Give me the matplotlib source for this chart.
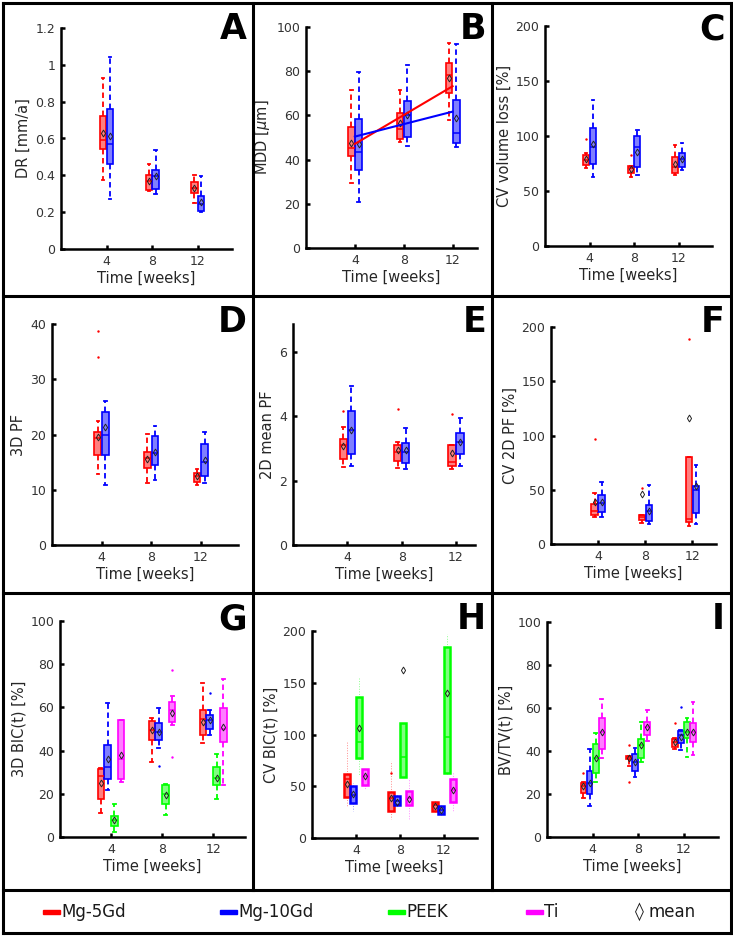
import numpy as np
import matplotlib
matplotlib.use("Agg")
from matplotlib import pyplot as plt
from matplotlib.colors import to_rgba
from matplotlib.lines import Line2D
from matplotlib.patches import Rectangle
from matplotlib.ticker import FuncFormatter

W, H = 733, 936

weeks = [4, 8, 12]
group_names = ["Mg-5Gd", "Mg-10Gd", "PEEK", "Ti"]
group_colors = ["#ff0000", "#0000ff", "#00ff00", "#ff00ff"]

# box stats per week (4, 8, 12): [whisker low, q1, median, q3, whisker high, mean]
# A - degradation rate
dr_mg5 = [[0.376, 0.543, 0.594, 0.72, 0.93, 0.63], [0.313, 0.318, 0.367, 0.40, 0.463, 0.367], [0.25, 0.304, 0.331, 0.362, 0.40, 0.331]]
dr_mg10 = [[0.273, 0.463, 0.572, 0.762, 1.04, 0.612], [0.30, 0.326, 0.394, 0.43, 0.54, 0.395], [0.20, 0.205, 0.246, 0.286, 0.395, 0.253]]

# B - mean degradation depth, with linear fits (value at week 4, value at week 12)
mdd_mg5 = [[29.3, 41.7, 45.1, 54.9, 71.4, 47.7], [48, 49.2, 54, 61.2, 71.4, 56.4], [58, 70.2, 78.2, 83.9, 92.8, 77]]
mdd_mg10 = [[21, 35.3, 43.6, 58.2, 79.7, 47], [46, 50, 60, 66.6, 82.7, 60.2], [45.9, 47.4, 52.2, 66.9, 92.2, 58.6]]
mdd_fit_mg5 = [47.1, 73.2]
mdd_fit_mg10 = [50.4, 61.7]

# C - CV volume loss
cvvol_mg5 = [[71, 74, 78, 83, 84.5, 79], [63, 66, 70.6, 72.7, 72.7, 69.7], [64.5, 66, 72, 81.2, 91.8, 74.2]]
cvvol_mg10 = [[62.4, 74.5, 90.3, 107, 133, 92.7], [64.5, 71.5, 90.3, 100.3, 105.5, 85.8], [69, 72.1, 78.8, 84.8, 94, 78.8]]
cvvol_mg5_out = [[97], [82.7], []]

# D - 3D pitting factor
pf3d_mg5 = [[12.9, 16.3, 19.3, 20.5, 22.4, 19.6], [11.2, 14, 15.7, 16.9, 20.1, 15.5], [10.8, 11.4, 12.4, 13.1, 13.8, 12.4]]
pf3d_mg10 = [[10.9, 16.2, 19.9, 24, 26, 21.3], [11.8, 14.5, 16.6, 19.8, 21.6, 16.9], [11.2, 12.4, 15.1, 18.2, 20.4, 15.4]]
pf3d_mg5_out = [[34, 38.7], [], []]

# E - 2D mean pitting factor
pf2d_mg5 = [[2.43, 2.67, 3.1, 3.29, 3.67, 3.08], [2.38, 2.62, 2.9, 3.12, 3.2, 2.95], [2.36, 2.46, 2.59, 3.1, 3.1, 2.87]]
pf2d_mg10 = [[2.46, 2.84, 3.57, 4.16, 4.94, 3.57], [2.36, 2.56, 2.9, 3.18, 3.64, 2.95], [2.46, 2.84, 3.2, 3.48, 3.95, 3.2]]
pf2d_mg5_out = [[4.16], [4.24], [4.08]]

# F - CV 2D pitting factor
cvpf_mg5 = [[24.5, 27, 30.6, 36.8, 46.9, 38.3], [19.3, 22.4, 24.5, 26.3, 26.3, 45.9], [16.2, 19.9, 23.3, 80, 80, 116.4]]
cvpf_mg10 = [[24.5, 29.4, 37.7, 45.3, 56.7, 38.6], [18.4, 21.4, 30, 36.1, 54.5, 30.6], [18.4, 28.5, 50, 53, 72.9, 53.6]]
cvpf_mg5_out = [[96.8], [51.5], [189]]

# G - 3D bone implant contact
bic_mg5 = [[11.1, 17.7, 28.2, 31.6, 32, 25.2], [34.7, 45.1, 49.7, 53.5, 55.1, 49.4], [43.7, 47.1, 54.8, 58.6, 71.5, 53.2]]
bic_mg10 = [[21.6, 26.7, 32.4, 42.4, 62.2, 36], [41.2, 44.8, 48.6, 52.9, 59.7, 48.6], [47, 50.2, 54, 56.3, 58.6, 54.3]]
bic_peek = [[2.3, 5.1, 7.7, 9.6, 15.1, 7.7], [10, 15.4, 20, 23.9, 24.7, 19.6], [17.7, 24.2, 27.3, 32.4, 38.6, 27.3]]
bic_ti = [[25.5, 27, 36, 54, 54.3, 37.8], [52, 53.2, 58.6, 62.5, 65.3, 57.4], [23.9, 44, 50, 59.9, 73.3, 50.9]]
bic_mg10_out = [[], [32.7], [66.8]]
bic_ti_out = [[], [77.2, 37], []]

# H - CV bone implant contact
cvbic_mg5 = [[29.5, 39.2, 57, 61.6, 93, 52.3], [18.6, 25.7, 38.5, 44.3, 74.5, 38.5], [24, 26.3, 32, 34.7, 36, 31]]
cvbic_mg10 = [[26.3, 33.7, 42, 49.8, 53, 42.4], [29.5, 31.5, 35.3, 40.1, 41.7, 34.7], [22.5, 23.1, 27.3, 30.5, 32, 27.3]]
cvbic_peek = [[60.4, 77, 93, 136.4, 154.7, 106], [58.7, 58.7, 78.7, 110.8, 110.8, 162], [61, 62.6, 98, 184.6, 197.4, 140.3]]
cvbic_ti = [[47.5, 51.4, 60, 66.8, 66.8, 60], [17.7, 31.5, 38.5, 45.6, 58.4, 37.6], [26.3, 34.7, 46.5, 57.1, 64.2, 46.5]]
cvbic_mg5_out = [[], [63], []]

# I - bone volume / tissue volume
bvtv_mg5 = [[18.1, 20.4, 23.5, 25, 25.8, 23.5], [32.8, 36.3, 37.1, 37.9, 37.9, 36.9], [40.8, 42, 44.4, 45.6, 45.9, 44.4]]
bvtv_mg10 = [[14.2, 19.9, 25, 30.9, 40.8, 25], [27.7, 30.8, 35.1, 38.5, 41.6, 35.1], [40.5, 43.6, 47.4, 49.5, 49.8, 46.7]]
bvtv_peek = [[25.8, 29.7, 36.6, 43.1, 48.2, 36.6], [35.1, 36.9, 42.8, 45.6, 53.6, 42.8], [37.1, 46.2, 49, 53.3, 55.2, 49]]
bvtv_ti = [[36.6, 40.8, 49, 55.2, 64.1, 49], [44.7, 47.4, 51.3, 53.6, 59, 51.3], [38.2, 44, 49, 53.2, 62.9, 49]]
bvtv_mg5_out = [[29.7], [42.8, 25.8], [53.2]]
bvtv_mg10_out = [[], [], [60.6]]

no_out = [[], [], []]


def fx(x):
    return x / W


def fy(y):
    return 1 - y / H


def draw_boxes(ax, series, outliers, thin_whiskers=False):
    n = len(series)
    if n == 2:
        offsets, width = [-0.3, 0.3], 0.55
    else:
        offsets, width = [-0.8, -0.27, 0.27, 0.8], 0.5
    for i, (vals, outs) in enumerate(zip(series, outliers)):
        c = group_colors[i]
        stats = []
        for v, o in zip(vals, outs):
            stats.append(dict(whislo=v[0], q1=v[1], med=v[2], q3=v[3], whishi=v[4], mean=v[5], fliers=np.array(o)))
        if thin_whiskers:
            wprops = dict(color=c, linestyle=":", linewidth=0.7, alpha=0.45)
            cprops = dict(color=c, linewidth=0)
            edge_lw = 1.8
        else:
            wprops = dict(color=c, linestyle=(0, (3, 2)), linewidth=1.3)
            cprops = dict(color=c, linewidth=1.3)
            edge_lw = 1.2
        ax.bxp(
            stats,
            positions=[w + offsets[i] for w in weeks],
            widths=width,
            capwidths=0.22,
            patch_artist=True,
            showmeans=True,
            manage_ticks=False,
            boxprops=dict(facecolor=to_rgba(c, 0.5), edgecolor=c, linewidth=edge_lw),
            whiskerprops=wprops,
            capprops=cprops,
            medianprops=dict(color=c, linewidth=1.1),
            flierprops=dict(marker=".", markersize=3.5, markerfacecolor=c, markeredgecolor="none"),
            meanprops=dict(marker="d", markersize=3.5, markerfacecolor="none", markeredgecolor="#222222", markeredgewidth=0.7),
        )


def style_axes(ax, ylabel, ylim, yticks, xmax):
    ax.set_xlim(0, xmax)
    ax.set_ylim(*ylim)
    ax.set_xticks(weeks)
    ax.set_yticks(yticks)
    ax.yaxis.set_major_formatter(FuncFormatter(lambda v, p: f"{v:g}"))
    for s in ["top", "right"]:
        ax.spines[s].set_visible(False)
    for s in ["left", "bottom"]:
        ax.spines[s].set_linewidth(1.8)
    ax.tick_params(direction="in", length=3, width=1.8, labelsize=9, labelcolor="#333333", pad=4)
    ax.set_ylabel(ylabel, fontsize=10.5, color="#262626", labelpad=3)
    ax.set_xlabel("Time [weeks]", fontsize=10.5, color="#262626", labelpad=2)


fig = plt.figure(figsize=(W / 100, H / 100), dpi=100)

# (letter, ylabel, series, outliers, ylim, yticks, xmax, axes box in px: left, top, right, bottom)
panels = [
    ("A", "DR [mm/a]", [dr_mg5, dr_mg10], [no_out, no_out], (0, 1.2), np.arange(0, 1.21, 0.2), 15, (61, 28, 232, 249)),
    ("B", r"MDD [$\mu$m]", [mdd_mg5, mdd_mg10], [no_out, no_out], (0, 100), np.arange(0, 101, 20), 14, (306, 27, 477, 248)),
    ("C", "CV volume loss [%]", [cvvol_mg5, cvvol_mg10], [cvvol_mg5_out, no_out], (0, 200), np.arange(0, 201, 50), 15, (545, 26, 712, 246)),
    ("D", "3D PF", [pf3d_mg5, pf3d_mg10], [pf3d_mg5_out, no_out], (0, 40), np.arange(0, 41, 10), 15, (52, 324, 238, 545)),
    ("E", "2D mean PF", [pf2d_mg5, pf2d_mg10], [pf2d_mg5_out, no_out], (0, 6.87), [0, 2, 4, 6], 13.4, (293, 324, 475, 545)),
    ("F", "CV 2D PF [%]", [cvpf_mg5, cvpf_mg10], [cvpf_mg5_out, no_out], (0, 200), np.arange(0, 201, 50), 14, (551, 327, 716, 544)),
    ("G", "3D BIC(t) [%]", [bic_mg5, bic_mg10, bic_peek, bic_ti], [no_out, bic_mg10_out, no_out, bic_ti_out], (0, 100), np.arange(0, 101, 20), 14.5, (60, 621, 245, 837)),
    ("H", "CV BIC(t) [%]", [cvbic_mg5, cvbic_mg10, cvbic_peek, cvbic_ti], [cvbic_mg5_out, no_out, no_out, no_out], (0, 200), np.arange(0, 201, 50), 15, (312, 631, 477, 838)),
    ("I", "BV/TV(t) [%]", [bvtv_mg5, bvtv_mg10, bvtv_peek, bvtv_ti], [bvtv_mg5_out, bvtv_mg10_out, no_out, no_out], (0, 100), np.arange(0, 101, 20), 15, (547, 622, 718, 837)),
]

col_right = [253, 492, 731]
row_top = [3, 296, 593]

for k, (letter, ylabel, series, outliers, ylim, yticks, xmax, box) in enumerate(panels):
    l, t, r, b = box
    ax = fig.add_axes([fx(l), fy(b), (r - l) / W, (b - t) / H])
    draw_boxes(ax, series, outliers, thin_whiskers=(letter == "H"))
    if letter == "B":
        ax.plot([4, 12], mdd_fit_mg5, color=group_colors[0], linewidth=1.5, zorder=5)
        ax.plot([4, 12], mdd_fit_mg10, color=group_colors[1], linewidth=1.5, zorder=5)
    style_axes(ax, ylabel, ylim, yticks, xmax)
    fig.text(fx(col_right[k % 3] - 6), fy(row_top[k // 3] + 9), letter,
             ha="right", va="top", fontsize=25, fontweight="bold")

# panel frame
frame_kw = dict(color="black", linewidth=2.2, transform=fig.transFigure)
for x in [3, 731]:
    fig.add_artist(Line2D([fx(x), fx(x)], [fy(3), fy(933)], **frame_kw))
for x in [253, 492]:
    fig.add_artist(Line2D([fx(x), fx(x)], [fy(3), fy(890)], **frame_kw))
for y in [3, 296, 593, 890, 933]:
    fig.add_artist(Line2D([fx(3), fx(731)], [fy(y), fy(y)], **frame_kw))

# legend row
legend_x = [43, 220, 388, 526]
for x0, name, c in zip(legend_x, group_names, group_colors):
    fig.add_artist(Rectangle((fx(x0), fy(914)), 17 / W, 4 / H, color=c, transform=fig.transFigure))
    fig.text(fx(x0 + 18), fy(912), name, fontsize=12, color="#1a1a1a", ha="left", va="center")
fig.text(fx(635), fy(912), "\u25ca", fontsize=13, color="#1a1a1a", ha="left", va="center")
fig.text(fx(649), fy(912), "mean", fontsize=12, color="#1a1a1a", ha="left", va="center")

fig.savefig("out.png", dpi=100, facecolor="white")
